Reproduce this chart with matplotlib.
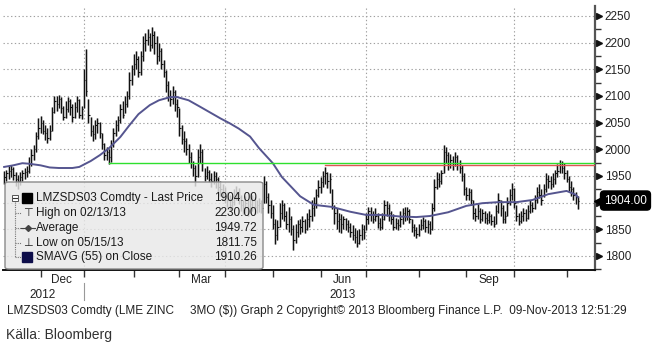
import numpy as np
import pandas as pd
import matplotlib
matplotlib.use("Agg")
import matplotlib.pyplot as plt
import matplotlib.transforms as mtransforms
from matplotlib.patches import FancyBboxPatch, Rectangle
from matplotlib.lines import Line2D

plt.rcParams['font.family'] = ['Liberation Sans', 'DejaVu Sans']

# LME trading days, 9 Nov 2012 - 8 Nov 2013
holidays = ["2012-12-25", "2012-12-26", "2013-01-01", "2013-03-29",
            "2013-04-01", "2013-05-06", "2013-05-27", "2013-08-26"]
dates = pd.bdate_range("2012-11-09", "2013-11-08")
dates = dates[~dates.isin(pd.to_datetime(holidays))]

# LMZSDS03 daily bars (USD/t)
closes = [1948, 1955, 1960, 1963, 1952, 1945, 1940, 1948, 1955, 1958, 1960,
          1972, 1990, 2000, 2025, 2040, 2050, 2035, 2030, 2022, 2035,
          2070, 2090, 2085, 2095, 2078, 2060, 2075, 2090, 2080, 2060,
          2080, 2092, 2065, 2075, 2130, 2110, 2065, 2035, 2028, 2045,
          2050, 2030, 2010, 1990, 1995, 1985, 2010, 2030, 2045, 2055,
          2075, 2065, 2085, 2100, 2130, 2150, 2160, 2170, 2145, 2175,
          2200, 2205, 2210, 2195, 2215, 2200, 2175, 2185, 2160, 2145,
          2120, 2100, 2095, 2108, 2085, 2080, 2040, 2020, 2015, 2000,
          1985, 1975, 1965, 1950, 1985, 1995, 1975, 1950, 1958, 1945,
          1940, 1950, 1945, 1930, 1925, 1920, 1912, 1905, 1895, 1902,
          1915, 1920, 1910, 1895, 1890, 1900, 1885, 1898, 1905, 1892,
          1895, 1900, 1890, 1935, 1910, 1895, 1880, 1860, 1840, 1855,
          1880, 1895, 1875, 1860, 1870, 1850, 1830, 1845, 1860, 1855,
          1865, 1850, 1870, 1875, 1890, 1900, 1915, 1930, 1938, 1950,
          1955, 1940, 1945, 1900, 1880, 1865, 1870, 1860, 1870, 1860,
          1855, 1845, 1840, 1835, 1825, 1840, 1850, 1845, 1870, 1885,
          1878, 1870, 1875, 1862, 1855, 1870, 1895, 1890, 1880, 1870,
          1855, 1862, 1858, 1870, 1880, 1875, 1885, 1870, 1855, 1848,
          1842, 1850, 1858, 1865, 1855, 1860, 1850, 1890, 1930, 1945,
          1940, 1955, 1995, 1990, 1970, 1980, 1975, 1985, 1970, 1965,
          1950, 1925, 1915, 1920, 1905, 1880, 1875, 1885, 1870, 1880,
          1872, 1868, 1875, 1865, 1860, 1885, 1905, 1890, 1870, 1875,
          1900, 1915, 1925, 1900, 1875, 1865, 1875, 1880, 1872, 1885,
          1895, 1890, 1905, 1920, 1915, 1905, 1925, 1945, 1940, 1935,
          1945, 1955, 1960, 1970, 1965, 1955, 1945, 1930, 1925, 1915,
          1910, 1904]
highs = [1960, 1962, 1968, 1970, 1966, 1958, 1952, 1957, 1962, 1965, 1968,
         1985, 2000, 2008, 2032, 2058, 2062, 2055, 2045, 2040, 2045,
         2080, 2100, 2100, 2102, 2098, 2082, 2090, 2098, 2095, 2085,
         2088, 2100, 2095, 2082, 2150, 2188, 2095, 2060, 2045, 2055,
         2058, 2052, 2030, 2012, 2005, 2000, 2018, 2040, 2055, 2062,
         2085, 2090, 2100, 2110, 2145, 2158, 2178, 2185, 2175, 2185,
         2212, 2218, 2225, 2218, 2230, 2222, 2212, 2200, 2190, 2168,
         2148, 2128, 2112, 2118, 2112, 2095, 2078, 2045, 2035, 2022,
         2010, 1995, 1978, 1970, 2000, 2010, 2000, 1965, 1968, 1962,
         1955, 1960, 1958, 1948, 1940, 1935, 1930, 1920, 1915, 1912,
         1925, 1932, 1928, 1915, 1905, 1912, 1905, 1918, 1915, 1910,
         1905, 1908, 1905, 1950, 1940, 1918, 1905, 1895, 1870, 1868,
         1900, 1905, 1900, 1885, 1892, 1875, 1858, 1860, 1868, 1870,
         1875, 1870, 1880, 1888, 1905, 1910, 1925, 1942, 1948, 1960,
         1966, 1958, 1955, 1925, 1895, 1890, 1880, 1878, 1875, 1872,
         1868, 1862, 1858, 1852, 1848, 1850, 1860, 1858, 1880, 1892,
         1892, 1885, 1890, 1880, 1872, 1880, 1905, 1903, 1898, 1885,
         1878, 1872, 1870, 1885, 1890, 1892, 1892, 1888, 1870, 1860,
         1855, 1860, 1870, 1873, 1870, 1868, 1865, 1900, 1945, 1958,
         1955, 1962, 2008, 2005, 1995, 1992, 1988, 1995, 1990, 1980,
         1970, 1955, 1930, 1928, 1925, 1905, 1890, 1898, 1890, 1888,
         1885, 1880, 1885, 1878, 1875, 1895, 1918, 1905, 1895, 1885,
         1910, 1925, 1936, 1928, 1895, 1880, 1885, 1890, 1888, 1895,
         1905, 1902, 1915, 1930, 1935, 1925, 1935, 1955, 1952, 1950,
         1955, 1962, 1972, 1980, 1978, 1975, 1962, 1950, 1940, 1930,
         1920, 1912]
lows = [1935, 1940, 1945, 1948, 1942, 1932, 1925, 1934, 1940, 1944, 1948,
        1955, 1968, 1980, 1995, 2020, 2030, 2028, 2018, 2012, 2018,
        2035, 2068, 2072, 2078, 2068, 2055, 2058, 2070, 2065, 2052,
        2058, 2070, 2058, 2056, 2078, 2100, 2050, 2025, 2015, 2020,
        2030, 2022, 2000, 1980, 1980, 1972, 1976, 2005, 2025, 2035,
        2050, 2058, 2068, 2080, 2095, 2120, 2140, 2150, 2135, 2140,
        2165, 2185, 2195, 2185, 2190, 2178, 2160, 2165, 2150, 2135,
        2108, 2090, 2082, 2085, 2072, 2060, 2025, 2010, 1995, 1990,
        1975, 1965, 1950, 1932, 1948, 1975, 1960, 1940, 1945, 1938,
        1930, 1935, 1928, 1920, 1912, 1905, 1900, 1892, 1885, 1888,
        1895, 1905, 1898, 1885, 1878, 1880, 1875, 1880, 1885, 1878,
        1880, 1882, 1880, 1900, 1900, 1880, 1872, 1850, 1822, 1830,
        1855, 1870, 1865, 1850, 1845, 1840, 1811.75, 1825, 1835, 1842,
        1845, 1843, 1848, 1855, 1865, 1875, 1890, 1910, 1918, 1930,
        1935, 1928, 1918, 1888, 1860, 1850, 1845, 1843, 1850, 1848,
        1845, 1835, 1830, 1825, 1817, 1822, 1830, 1832, 1848, 1860,
        1865, 1862, 1865, 1852, 1848, 1850, 1868, 1875, 1865, 1860,
        1848, 1850, 1848, 1855, 1860, 1865, 1868, 1862, 1845, 1838,
        1833, 1838, 1849, 1850, 1845, 1843, 1842, 1848, 1885, 1925,
        1930, 1935, 1955, 1975, 1962, 1965, 1962, 1968, 1962, 1955,
        1940, 1915, 1905, 1905, 1895, 1870, 1866, 1870, 1862, 1865,
        1862, 1860, 1862, 1858, 1855, 1860, 1880, 1875, 1862, 1862,
        1875, 1895, 1905, 1890, 1865, 1858, 1862, 1865, 1866, 1870,
        1880, 1882, 1888, 1900, 1908, 1895, 1910, 1920, 1928, 1925,
        1930, 1935, 1948, 1955, 1955, 1945, 1938, 1922, 1912, 1905,
        1898, 1888]

# 55-day simple moving average of the close, by trading-day index
sma_idx = [0, 4, 8, 11, 16, 20, 24, 30, 33, 38, 42, 46, 51, 55, 59, 64, 68,
           73, 76, 81, 86, 95, 99, 103, 108, 112, 118, 122, 130, 136, 144,
           152, 159, 166, 174, 181, 187, 195, 203, 210, 217, 225, 232, 239,
           247, 251, 252]
sma_val = [1967, 1970, 1974, 1973, 1970, 1966, 1965, 1965, 1967, 1978, 1989,
           2002, 2023, 2045, 2066, 2083, 2092, 2098, 2098, 2092, 2080, 2058,
           2049, 2039, 2024, 2002, 1974, 1948, 1912, 1896, 1892, 1883, 1877,
           1877, 1874, 1873, 1875, 1882, 1894, 1899, 1901, 1901, 1905, 1916,
           1922, 1915, 1910.26]

avg_price = 1949.72
level_green, green_from = 1974, 46
level_red, red_from = 1970, 141

n = len(closes)
idx = np.arange(n)

fig = plt.figure(figsize=(6.56, 3.46), dpi=100)
W, H = 656, 346
ax = fig.add_axes([3 / W, 76 / H, 592 / W, 264 / H])
ax.set_xlim(-0.5, 259.5)
ax.set_ylim(1773.75, 2268.75)

# gridlines
dotted = dict(color='#a0a0a0', lw=0.8, linestyle=(0, (1.2, 2.2)))
yt = np.arange(1800, 2251, 50)
for y in yt:
    ax.axhline(y, zorder=0, **dotted)
month_starts = [i for i in range(1, n) if dates[i].month != dates[i - 1].month]
for i in month_starts:
    if dates[i].month in (1, 4, 7, 10):
        ax.axvline(i, zorder=0, **dotted)

# bars
ax.vlines(idx, lows, highs, color='#bcbcbc', lw=1.9, zorder=2)
ax.vlines(idx, lows, highs, color='#111111', lw=0.8, zorder=3)
ax.hlines(closes, idx, idx + 0.6, color='#111111', lw=0.8, zorder=3)

ax.plot(sma_idx, sma_val, color='#55558f', lw=1.4, zorder=4)
ax.plot([green_from, ax.get_xlim()[1]], [level_green] * 2, color='#2ee02e', lw=1.0, zorder=4)
ax.plot([red_from, ax.get_xlim()[1]], [level_red] * 2, color='#e05555', lw=1.0, zorder=4)

# axes styling
for s in ('left', 'top'):
    ax.spines[s].set_visible(False)
ax.spines['right'].set_color('#555555')
ax.spines['right'].set_linewidth(1.6)
ax.spines['bottom'].set_color('#111111')
ax.spines['bottom'].set_linewidth(1.4)

# right price scale; the last-price tag sits over the nearest level
ax.yaxis.tick_right()
ax.set_yticks(yt)
ax.set_yticklabels(['' if abs(v - closes[-1]) < 25 else f"{v:d}" for v in yt])
ax.set_yticks(np.arange(1775, 2251, 25), minor=True)
ax.tick_params(axis='y', which='major', length=0, pad=7, labelsize=8.5, labelcolor='#222222')
ax.tick_params(axis='y', which='minor', length=4, width=1, color='#333333')
ax.tick_params(axis='y', which='both', left=False)
tri = mtransforms.blended_transform_factory(ax.transAxes, ax.transData) + \
    mtransforms.ScaledTranslation(3 / 72, 0, fig.dpi_scale_trans)
ax.plot([1] * len(yt), yt, ls='none', marker='>', ms=5,
        color='#111111', transform=tri, clip_on=False)

# month ticks and labels
ax.set_xticks(month_starts)
ax.set_xticklabels([])
ax.tick_params(axis='x', which='major', length=5, width=1, color='#333333', direction='out')
label_months = [12, 3, 6, 9]
mids, names = [], []
for m in label_months:
    sel = [i for i in range(n) if dates[i].month == m]
    mids.append((sel[0] + sel[-1]) / 2)
    names.append(dates[sel[0]].strftime('%b'))
ax.set_xticks(mids, minor=True)
ax.set_xticklabels(names, minor=True)
ax.tick_params(axis='x', which='minor', length=0, pad=3, labelsize=8.5, labelcolor='#222222')

ybl = mtransforms.blended_transform_factory(ax.transData, ax.transAxes)
y2012 = [i for i in range(n) if dates[i].year == 2012]
ax.annotate('2012', xy=((y2012[0] + y2012[-1]) / 2, 0), xycoords=ybl, xytext=(0, -25 * 0.72),
            textcoords='offset points', ha='center', va='center', fontsize=8.5, color='#222222')
ax.annotate('2013', xy=(mids[2], 0), xycoords=ybl, xytext=(0, -25 * 0.72),
            textcoords='offset points', ha='center', va='center', fontsize=8.5, color='#222222')
jan = [i for i in month_starts if dates[i].month == 1][0]
ax.plot([jan, jan], [-13 / 264, -30 / 264], transform=ybl, color='#999999', lw=0.8, clip_on=False)

# last price tag
tag = mtransforms.blended_transform_factory(ax.transAxes, ax.transData)
ax.annotate(f"{closes[-1]:.2f}", xy=(1, closes[-1]), xycoords=tag,
            xytext=(6.5, 0), textcoords='offset points', ha='left', va='center',
            fontsize=8.5, color='white', zorder=10,
            bbox=dict(boxstyle='round,pad=0.3,rounding_size=0.3', fc='black', ec='black'))
ax.plot([1], [closes[-1]], marker='<', ms=7, color='black', ls='none',
        transform=tag + mtransforms.ScaledTranslation(3 / 72, 0, fig.dpi_scale_trans),
        clip_on=False, zorder=10)

# legend panel
def fx(x):
    return x / W

def fy(y):
    return 1 - y / H

box = FancyBboxPatch((fx(5), fy(269)), fx(258), 87 / H,
                     boxstyle='round,pad=0,rounding_size=0.006', transform=fig.transFigure,
                     fc=(0.91, 0.91, 0.91, 0.82), ec='#8a8a8a', lw=1.0, zorder=5)
fig.add_artist(box)

hi_i = int(np.argmax(highs))
lo_i = int(np.argmin(lows))
rows = [
    ("LMZSDS03 Comdty - Last Price", f"{closes[-1]:.2f}"),
    ("High on " + dates[hi_i].strftime('%m/%d/%y'), f"{highs[hi_i]:.2f}"),
    ("Average", f"{avg_price:.2f}"),
    ("Low on " + dates[lo_i].strftime('%m/%d/%y'), f"{lows[lo_i]:.2f}"),
    ("SMAVG (55) on Close", f"{sma_val[-1]:.2f}"),
]
row_y = [198, 213, 228, 242.5, 257]
for (name, val), ry in zip(rows, row_y):
    fig.text(fx(36), fy(ry), name, ha='left', va='center', fontsize=8.5, color='#1a1a1a', zorder=6)
    fig.text(fx(257), fy(ry), val, ha='right', va='center', fontsize=8.5, color='#1a1a1a', zorder=6)

# tree connector
fig.add_artist(Line2D([fx(15), fx(15)], [fy(202), fy(257)], color='#777777', lw=0.8,
                      ls=(0, (1, 1)), transform=fig.transFigure, zorder=6))
for ry in row_y[1:]:
    fig.add_artist(Line2D([fx(15), fx(21)], [fy(ry), fy(ry)], color='#777777', lw=0.8,
                          ls=(0, (1, 1)), transform=fig.transFigure, zorder=6))
fig.add_artist(Rectangle((fx(12), fy(201)), fx(6), 6 / H, fc='white', ec='#555555', lw=0.7,
                         transform=fig.transFigure, zorder=7))
fig.add_artist(Line2D([fx(13.3), fx(16.7)], [fy(198), fy(198)], color='#333333', lw=0.8,
                      transform=fig.transFigure, zorder=8))
fig.add_artist(Rectangle((fx(22), fy(203)), fx(10), 10 / H, fc='black', ec='black',
                         transform=fig.transFigure, zorder=7))
fig.add_artist(Rectangle((fx(22), fy(262)), fx(10), 10 / H, fc='#0d0d4a', ec='#0d0d4a',
                         transform=fig.transFigure, zorder=7))
fig.text(fx(28), fy(213), '\u22a4', ha='center', va='center', fontsize=8, color='#222222',
         family=['DejaVu Sans'], zorder=7)
fig.text(fx(28), fy(242.5), '\u22a5', ha='center', va='center', fontsize=8, color='#222222',
         family=['DejaVu Sans'], zorder=7)
fig.add_artist(Line2D([fx(21), fx(35)], [fy(228), fy(228)], color='#444444', lw=0.8,
                      transform=fig.transFigure, zorder=7))
fig.add_artist(Line2D([fx(28)], [fy(228)], marker='D', ms=3, color='#444444',
                      transform=fig.transFigure, zorder=8))

# footer
fig.text(fx(7), fy(311), "LMZSDS03 Comdty (LME ZINC", ha='left', va='center',
         fontsize=8.5, color='#222222')
fig.text(fx(190), fy(311), "3MO ($)) Graph 2 Copyright\u00a9 2013 Bloomberg Finance L.P.  09-Nov-2013 12:51:29",
         ha='left', va='center', fontsize=8.5, color='#222222')
fig.text(fx(6), fy(335), "Källa: Bloomberg", ha='left', va='center', fontsize=10,
         color='#333333', family=['Liberation Sans Narrow', 'Liberation Sans'])

fig.savefig("out.png", dpi=100, facecolor='white')
